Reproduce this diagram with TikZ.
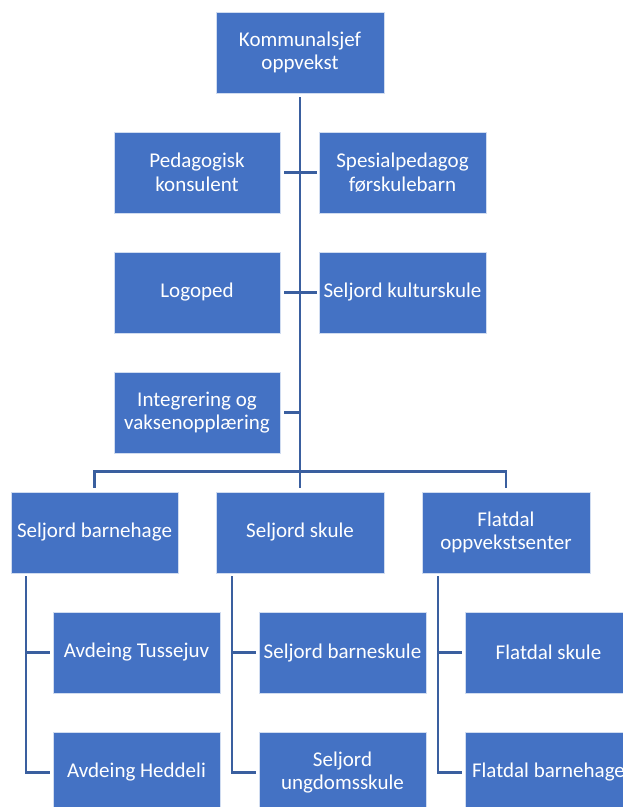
\documentclass[tikz,border=0pt]{standalone}
\usepackage{fontspec}
\setmainfont{Carlito}
\definecolor{boxblue}{HTML}{4472C4}
\definecolor{lineblue}{HTML}{3A5F9F}
\begin{document}
\begin{tikzpicture}[x=1pt,y=1pt,
  box/.style={rectangle,fill=boxblue,draw=white!75!boxblue,line width=0.8pt,
    minimum width=167pt,minimum height=81pt,inner sep=1pt,text=white,
    align=center,font=\fontsize{21}{23.5}\selectfont},
  conn/.style={draw=lineblue,line width=2.6pt},
  subconn/.style={draw=lineblue,line width=2.2pt}]
\useasboundingbox (0,0) rectangle (623,-807);
\clip (0,0) rectangle (623,-807);
\fill[white] (0,0) rectangle (623,-807);
% level 0
\node[box,minimum width=168pt] (top) at (300,-52.5) {Kommunalsjef\\oppvekst};
% staff
\node[box,minimum width=166pt] (ped) at (197,-172.5) {Pedagogisk\\konsulent};
\node[box] (spes) at (402.5,-172.5) {Spesialpedagog\\førskulebarn};
\node[box,minimum width=166pt] (logo) at (197,-292.5) {Logoped};
\node[box] (kult) at (402.5,-292.5) {Seljord kulturskule};
\node[box,minimum width=166pt] (integ) at (197,-412.5) {Integrering og\\vaksenopplæring};
% level 1
\node[box] (sb) at (94.5,-532.5) {Seljord barnehage};
\node[box,minimum width=168pt] (ss) at (300,-532.5) {Seljord skule};
\node[box,minimum width=168pt] (fo) at (506,-532.5) {Flatdal\\oppvekstsenter};
% level 2
\node[box] (tus) at (136.5,-652.5) {Avdeing Tussejuv};
\node[box] (hed) at (136.5,-772.5) {Avdeing Heddeli};
\node[box] (sbs) at (342.5,-652.5) {Seljord barneskule};
\node[box] (sus) at (342.5,-772.5) {Seljord\\ungdomsskule};
\node[box] (fs) at (548.5,-652.5) {Flatdal skule};
\node[box] (fb) at (548.5,-772.5) {Flatdal barnehage};
% connectors
\draw[conn] ([yshift=-4pt]top.south) -- ([yshift=4pt]ss.north);
\draw[conn] ([xshift=4pt]ped.east) -- ([xshift=-2pt]spes.west);
\draw[conn] ([xshift=4pt]logo.east) -- ([xshift=-2pt]kult.west);
\draw[conn] ([xshift=4pt]integ.east) -- (integ.east -| top.south);
\draw[conn] ([yshift=4pt]sb.north) -- ++(0,16pt) -| ([yshift=4pt]fo.north);
\draw[subconn] ([xshift=15pt,yshift=-3pt]sb.south west) |- ([xshift=-3pt]tus.west);
\draw[subconn] ([xshift=15pt,yshift=-3pt]sb.south west) |- ([xshift=-3pt]hed.west);
\draw[subconn] ([xshift=16pt,yshift=-3pt]ss.south west) |- ([xshift=-3pt]sbs.west);
\draw[subconn] ([xshift=16pt,yshift=-3pt]ss.south west) |- ([xshift=-3pt]sus.west);
\draw[subconn] ([xshift=16pt,yshift=-3pt]fo.south west) |- ([xshift=-3pt]fs.west);
\draw[subconn] ([xshift=16pt,yshift=-3pt]fo.south west) |- ([xshift=-3pt]fb.west);
\end{tikzpicture}
\end{document}
